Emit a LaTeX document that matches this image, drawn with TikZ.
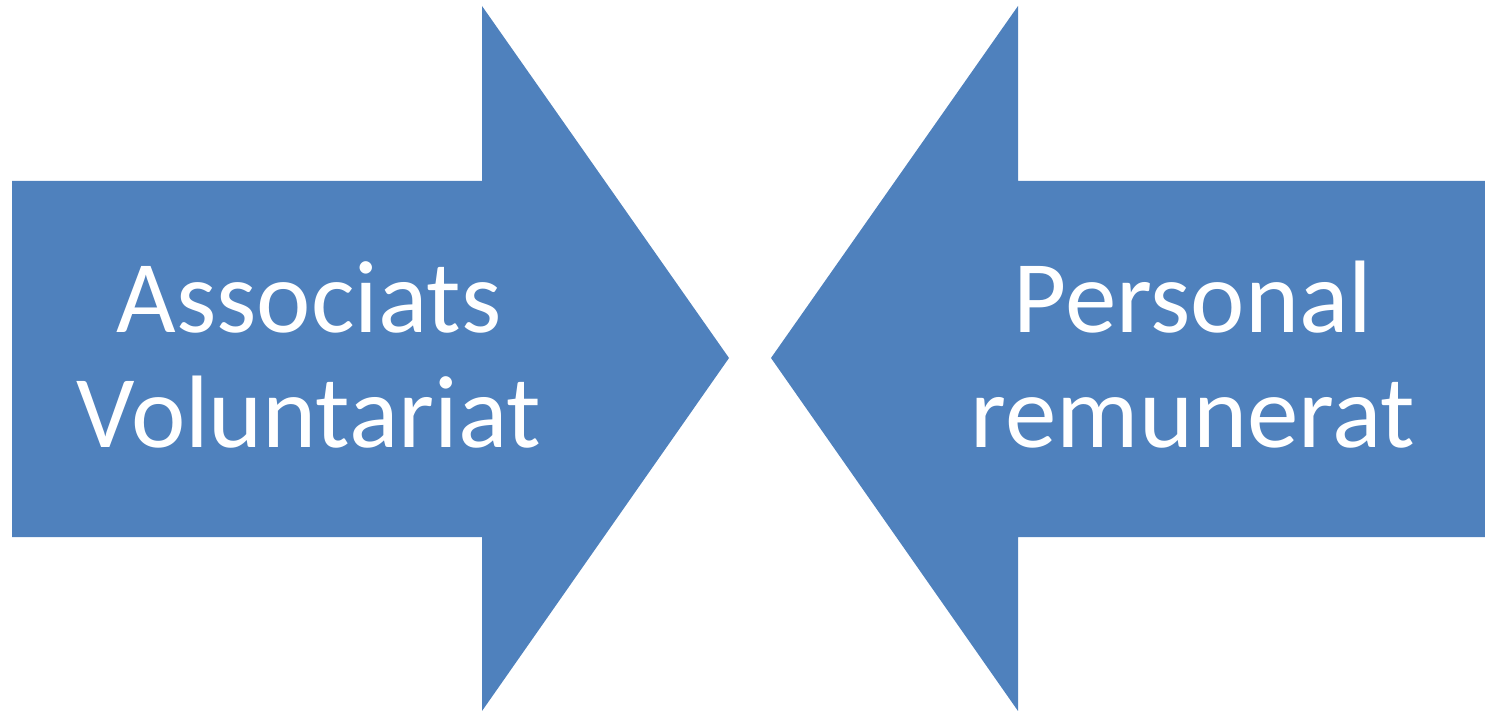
\documentclass[tikz,border=0pt]{standalone}
\usepackage{fontspec}
\setmainfont{Carlito}
\definecolor{arrowblue}{HTML}{4F81BD}
\tikzset{
  bigarrow/.style={fill=arrowblue,draw=none},
  arrowtext/.style={text=white,align=center,inner sep=0pt,font=\fontsize{103}{115}\selectfont}
}
\begin{document}
\begin{tikzpicture}[x=1pt,y=-1pt]
  \useasboundingbox (0,0) rectangle (1485,711);
  % left arrow
  \fill[bigarrow] (12,181) -- (482,181) -- (482,6) -- (729,358) -- (482,711) -- (482,537) -- (12,537) -- cycle;
  % right arrow
  \fill[bigarrow] (1485,181) -- (1018,181) -- (1018,6) -- (771,358) -- (1018,711) -- (1018,537) -- (1485,537) -- cycle;
  \node[arrowtext] (assoc) at (309,355) {Associats\\Voluntariat};
  \node[arrowtext] (pers) at (1193,355) {Personal\\remunerat};
\end{tikzpicture}
\end{document}
